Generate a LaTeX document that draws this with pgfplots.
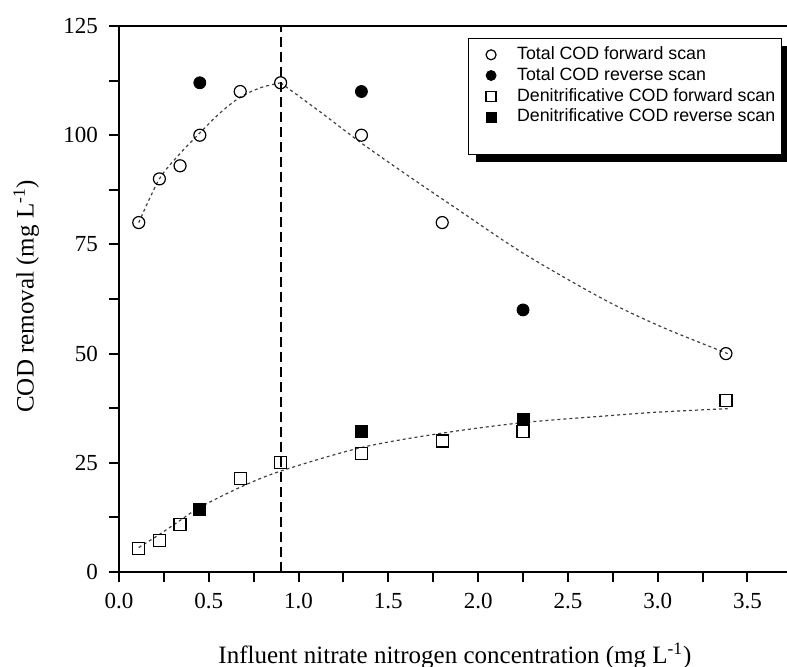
\documentclass[border=0pt]{standalone}
\usepackage{fontspec}
\setmainfont{Liberation Serif}
\newfontfamily\legfont{Liberation Sans}
\usepackage{pgfplots}
\pgfplotsset{compat=1.18}

\begin{document}
\begin{tikzpicture}
\begin{axis}[
 name=ax,
 scale only axis, width=334pt, height=273pt,
 xmin=0, xmax=3.72, ymin=0, ymax=125,
 axis x line*=bottom, axis y line*=left,
 axis line style={line width=1.2pt},
 xtick={0,0.5,1,1.5,2,2.5,3,3.5}, minor x tick num=1,
 ytick={0,25,50,75,100,125}, minor y tick num=1,
 tick align=outside,
 major tick length=5pt, minor tick length=5pt,
 every tick/.style={line width=1pt, black},
 xticklabel style={yshift=-2pt, /pgf/number format/.cd, fixed, fixed zerofill, precision=1},
 /pgf/number format/assume math mode=true,
 tick label style={font=\fontsize{11.5}{13}\selectfont},
 yticklabel style={xshift=-2pt},
 xlabel={Influent nitrate nitrogen concentration (mg L\textsuperscript{-1})},
 ylabel={COD removal (mg L\textsuperscript{-1})},
 label style={font=\fontsize{12.5}{14}\selectfont},
 xlabel style={at={(rel axis cs:0.503,0)}, anchor=north, yshift=-32pt},
 ylabel style={at={(rel axis cs:-0.139,0.505)}, anchor=center},
 legend style={name=leg, at={(0.522,0.978)}, anchor=north west, draw=black,
   font=\legfont\fontsize{8.9}{10.8}\selectfont,
   inner xsep=2pt, inner ysep=3.7pt, row sep=1.35pt,
   nodes={inner ysep=0pt, inner xsep=1pt, text height=7pt, text depth=2pt}},
 legend cell align=left,
 legend image code/.code={\path[draw=none,fill=none] (0pt,0pt) rectangle (21.5pt,0.1pt); \draw[#1,mark size=2.5pt] plot coordinates {(9.5pt,0pt)};},
 extra description/.code={\draw[line width=1.2pt] (rel axis cs:0,1) -- (rel axis cs:1,1);},
]
% fitted curves
\addplot[forget plot, black!75, line width=0.6pt, dash pattern=on 1.5pt off 1.5pt, smooth] coordinates {
 (0.11,80) (0.225,90) (0.34,95.8) (0.45,100.5) (0.56,105) (0.675,108.7) (0.79,110.9) (0.9,112)};
\addplot[forget plot, black!75, line width=0.6pt, dash pattern=on 1.5pt off 1.5pt, smooth] coordinates {
 (0.9,112) (1.125,105.2) (1.35,98.2) (1.6,91) (1.84,84.3) (2.25,73) (2.7,62.4) (3.0,56.5) (3.2,53.1) (3.39,50)};
\addplot[forget plot, black!75, line width=0.6pt, dash pattern=on 1.5pt off 1.5pt, smooth] coordinates {
 (0.11,5.6) (0.225,8.6) (0.34,11.8) (0.45,14.8) (0.675,19.4) (0.9,23.1) (1.35,28.5) (1.8,31.8) (2.25,34.2) (2.7,35.7) (3.0,36.6) (3.39,37.4)};
% vertical line
\addplot[forget plot, black, line width=1pt, dash pattern=on 5pt off 2.5pt] coordinates {(0.9,0) (0.9,125)};
% data
\addplot[only marks, mark=o, mark size=3pt, black, mark options={line width=0.6pt}] coordinates {
 (0.11,80) (0.225,90) (0.34,93) (0.45,100) (0.675,110) (0.9,112) (1.35,100) (1.8,80) (3.38,50)};
\addlegendentry{Total COD forward scan}
\addplot[only marks, mark=*, mark size=3pt, black] coordinates {
 (0.45,112) (1.35,110) (2.25,60)};
\addlegendentry{Total COD reverse scan}
\addplot[only marks, mark=square, mark size=3pt, black, mark options={line width=0.6pt}] coordinates {
 (0.11,5.3) (0.225,7.3) (0.34,10.8) (0.675,21.4) (0.9,25) (1.35,27.2) (1.8,30) (2.25,32.1) (3.38,39.2)};
\addlegendentry{Denitrificative COD forward scan}
\addplot[only marks, mark=square*, mark size=3pt, black] coordinates {
 (0.45,14.4) (1.35,32.1) (2.25,35)};
\addlegendentry{Denitrificative COD reverse scan}
\addlegendimage{empty legend}
\addlegendentry{}
\end{axis}
% legend shadow (right and bottom strips)
\fill[black] ([yshift=-4pt]leg.north east) rectangle ([xshift=4pt,yshift=-4pt]leg.south east);
\fill[black] ([xshift=4pt,yshift=-4pt]leg.south west) rectangle (leg.south east);
\pgfresetboundingbox
\path ([xshift=-59.5pt,yshift=-47pt]ax.south west) rectangle ([yshift=13pt]ax.north east);
\end{tikzpicture}
\end{document}
